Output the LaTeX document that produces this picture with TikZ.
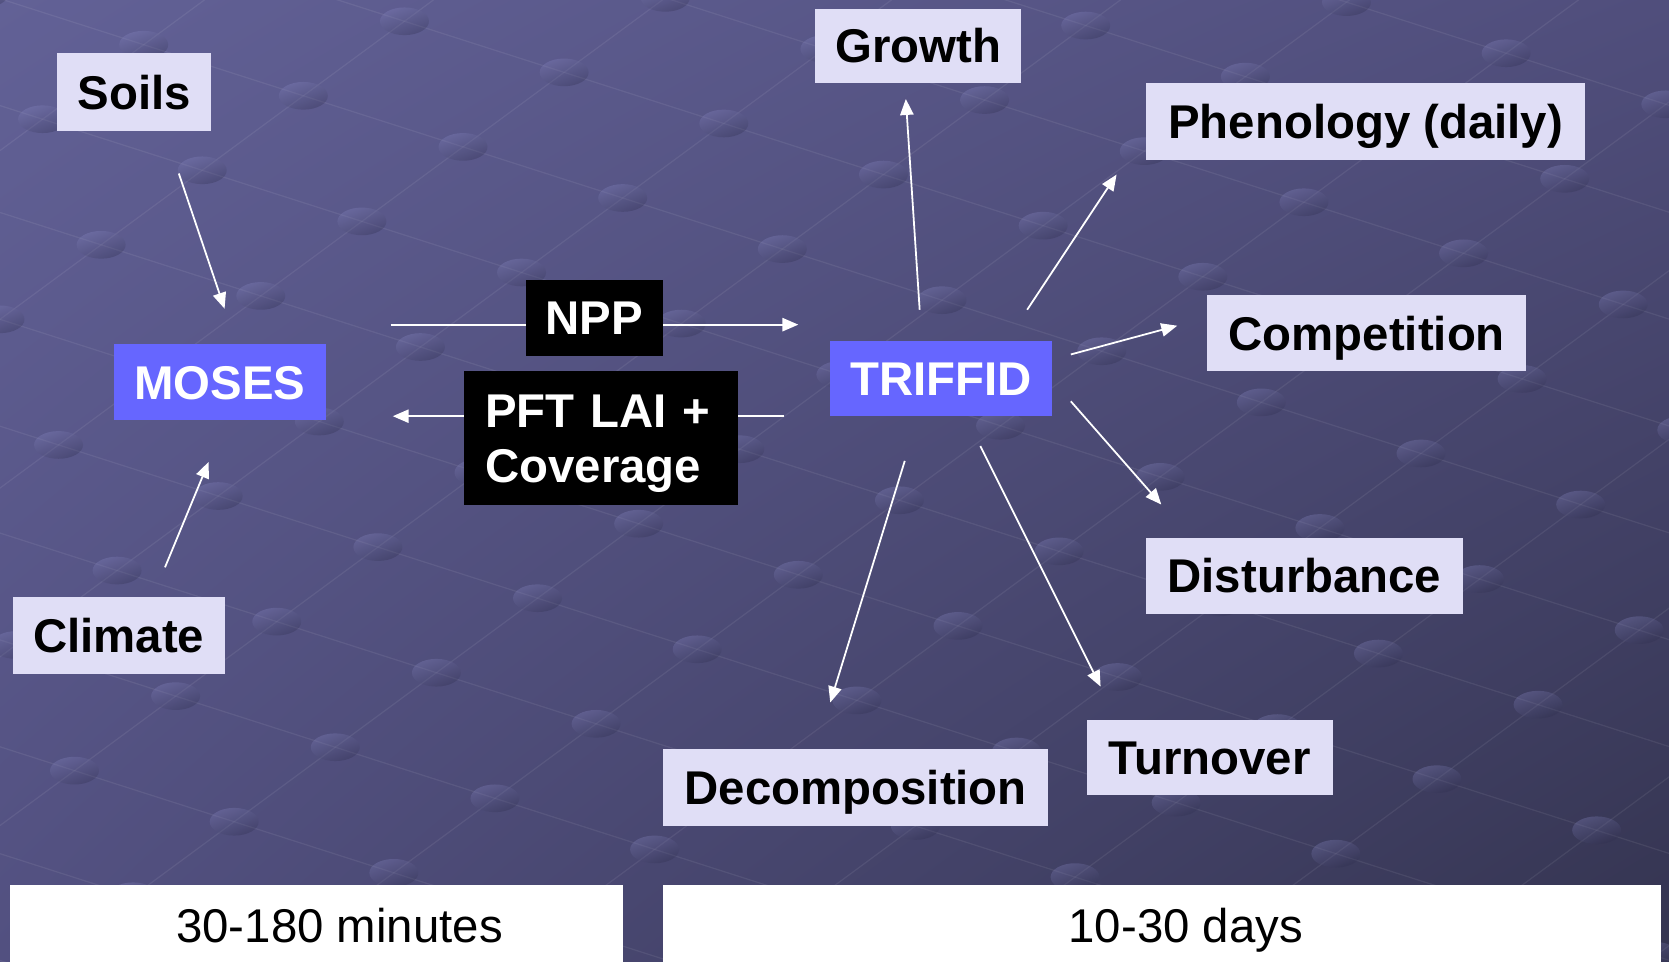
\documentclass[tikz,border=0pt]{standalone}
\usepackage{fontspec}
\setmainfont{Liberation Sans}
\usetikzlibrary{arrows.meta,shadings}
\definecolor{lav}{RGB}{224,222,246}
\definecolor{tblue}{RGB}{102,102,255}
\definecolor{bgTL}{RGB}{98,97,150}
\definecolor{bgTR}{RGB}{80,78,124}
\definecolor{bgBL}{RGB}{82,80,128}
\definecolor{bgBR}{RGB}{52,52,80}
\definecolor{dotlight}{RGB}{140,140,200}
\definecolor{dotdark}{RGB}{40,40,70}
\begin{document}
\begin{tikzpicture}[x=0.6pt,y=-0.6pt,
  box/.style={inner sep=0pt, font=\fontsize{26.7}{31.2}\selectfont\bfseries, text height=19.2pt, text depth=0pt},
  lavbox/.style={box, fill=lav, text=black},
  bluebox/.style={box, fill=tblue, text=white},
  blackbox/.style={box, fill=black, text=white},
  timebox/.style={fill=white, inner sep=0pt},
  timelabel/.style={font=\fontsize{26.7}{31.2}\selectfont, text=black, text height=19.2pt, text depth=0pt, inner sep=0pt},
  arr/.style={draw=white, line width=1pt, -{Triangle[length=9pt,width=7.5pt]}},
  gridline/.style={draw=white, draw opacity=0.07, line width=0.7pt},
  dot/.style={top color=dotlight, bottom color=dotdark, shading angle=20, opacity=0.3}
]
\path[use as bounding box] (0,0) rectangle (1568,903);
\shade[upper left=bgTL, upper right=bgTR, lower left=bgBL, lower right=bgBR] (0,0) rectangle (1568,903);
% background texture
\begin{scope}
\clip (0,0) rectangle (1568,903);
\foreach \j in {-7,...,9} \draw[gridline] ({150*(-6)+95*\j},{300+48*(-6)-70*\j}) -- ({150*16+95*\j},{300+48*16-70*\j});
\foreach \i in {-3,...,13} \draw[gridline] ({150*\i+95*(-10)},{300+48*\i-70*(-10)}) -- ({150*\i+95*12},{300+48*\i-70*12});
\foreach \i in {-3,...,13} \foreach \j in {-7,...,9} \shade[dot] ({150*\i+95*\j},{300+48*\i-70*\j}) ellipse [x radius=23, y radius=13];
\end{scope}
% connector end points
\coordinate (soilsA) at (168,163);  \coordinate (mosesA) at (211,290);
\coordinate (climA) at (155,533);   \coordinate (mosesB) at (196,434);
\coordinate (nppA) at (367,305);    \coordinate (nppB) at (750,305);
\coordinate (pftA) at (737,391);    \coordinate (pftB) at (369,391);
\coordinate (trG) at (864,291);     \coordinate (growthE) at (851,93);
\coordinate (trP) at (965,291);     \coordinate (phenE) at (1049,164);
\coordinate (trC) at (1006,333);    \coordinate (compE) at (1106,306);
\coordinate (trD) at (1006,377);    \coordinate (distE) at (1091,474);
\coordinate (trT) at (921,419);     \coordinate (turnE) at (1034,645);
\coordinate (trX) at (850,433);     \coordinate (decE) at (780,660);
\draw[arr] (soilsA) -- (mosesA);
\draw[arr] (climA) -- (mosesB);
\draw[arr] (nppA) -- (nppB);
\draw[arr] (pftA) -- (pftB);
\draw[arr] (trG) -- (growthE);
\draw[arr] (trP) -- (phenE);
\draw[arr] (trC) -- (compE);
\draw[arr] (trD) -- (distE);
\draw[arr] (trT) -- (turnE);
\draw[arr] (trX) -- (decE);
% nodes
\node[lavbox, minimum width=86.4pt, minimum height=43.8pt] (soils) at (126,86.5) {Soils};
\node[bluebox, minimum width=119.4pt, minimum height=43.2pt] (moses) at (206.5,359) {MOSES};
\node[lavbox, minimum width=119.4pt, minimum height=43.2pt] (climate) at (111.5,597) {Climate};
\node[blackbox, minimum width=77.4pt, minimum height=42.6pt] (npp) at (558.5,298.5) {NPP};
\node[blackbox, minimum width=154.2pt, minimum height=75pt, text width=130.2pt, align=left, text height=19.2pt, text depth=31.2pt] (pft) at (564.5,411.5) {PFT LAI +\\Coverage};
\node[bluebox, minimum width=124.8pt, minimum height=42.6pt] (triffid) at (884,355.5) {TRIFFID};
\node[lavbox, minimum width=115.8pt, minimum height=42pt] (growth) at (862.5,43) {Growth};
\node[lavbox, minimum width=247.2pt, minimum height=43.2pt] (phenology) at (1283,114) {Phenology (daily)};
\node[lavbox, minimum width=180pt, minimum height=43.2pt] (competition) at (1284,313) {Competition};
\node[lavbox, minimum width=178.2pt, minimum height=43.2pt] (disturbance) at (1225.5,541) {Disturbance};
\node[lavbox, minimum width=138.6pt, minimum height=42.6pt] (turnover) at (1136.5,711.5) {Turnover};
\node[lavbox, minimum width=217.2pt, minimum height=43.2pt] (decomposition) at (804,740) {Decomposition};
% time scale bars
\node[timebox, minimum width=345.6pt, minimum height=47.4pt] (leftbar) at (297,870.5) {};
\node[timebox, minimum width=562.2pt, minimum height=47.4pt] (rightbar) at (1091.5,870.5) {};
\node[timelabel] (lefttime) at (319,869.5) {30-180 minutes};
\node[timelabel] (righttime) at (1114,869.5) {10-30 days};
\end{tikzpicture}
\end{document}
